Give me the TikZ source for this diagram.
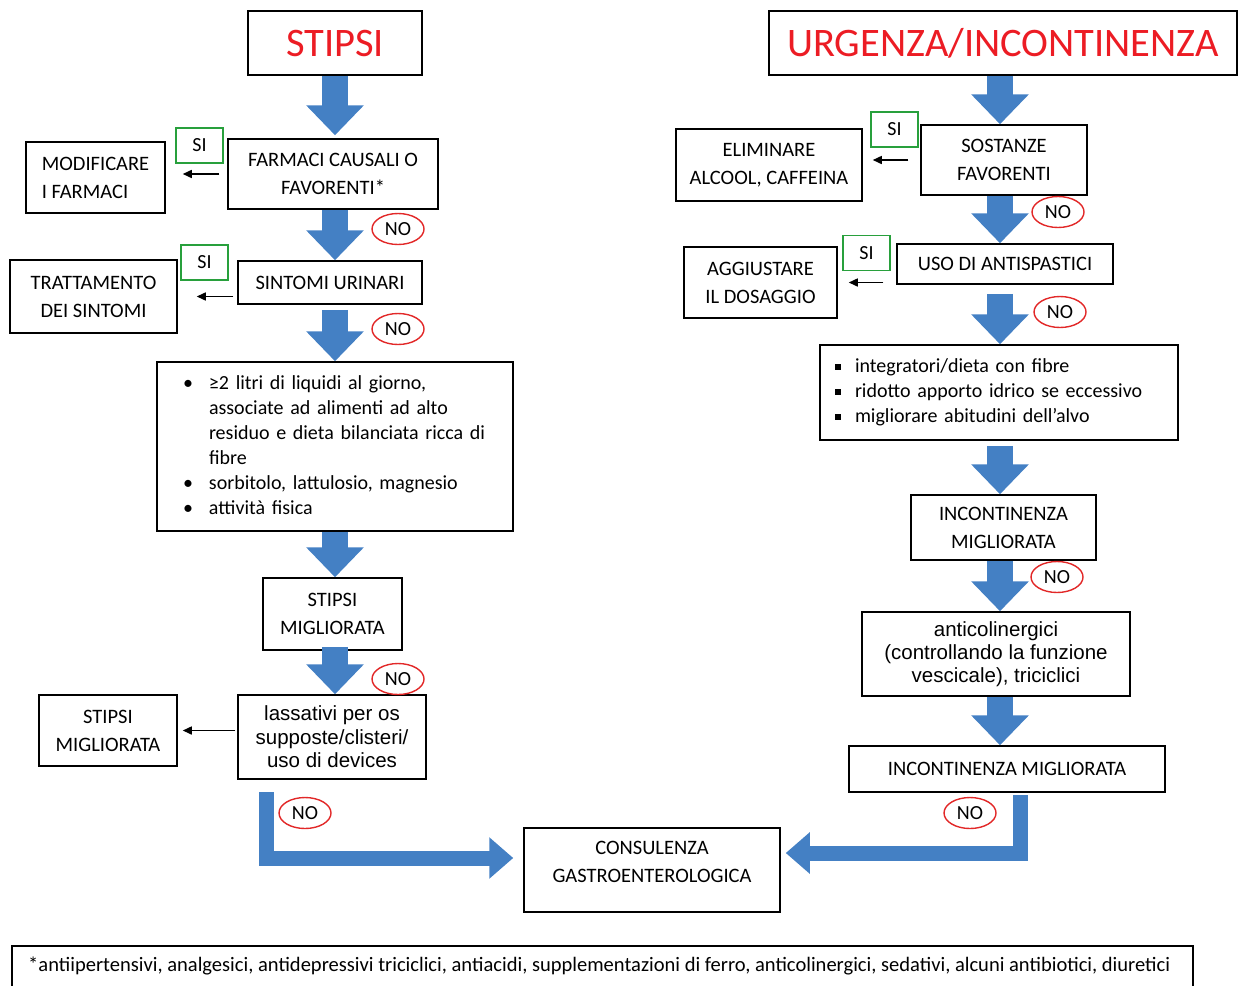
\documentclass[tikz,border=0pt]{standalone}
\usepackage{fontspec}
\setmainfont{Carlito}
\newfontfamily\arialfont{Liberation Sans}
\usepackage{graphicx}
\usetikzlibrary{shapes.geometric, arrows.meta, calc}

\definecolor{arrblue}{RGB}{68,128,196}
\definecolor{sigreen}{RGB}{40,160,60}
\definecolor{nored}{RGB}{226,40,40}
\definecolor{titlered}{RGB}{236,28,36}

\begin{document}
\begin{tikzpicture}[x=1pt, y=-1pt,
  box/.style={draw, line width=1.5pt, inner sep=0pt, align=center, font=\fontsize{20.5}{28}\selectfont},
  titlebox/.style={box, text=titlered, font=\fontsize{40.5}{44}\selectfont},
  sibox/.style={draw=sigreen, line width=1.3pt, minimum width=47pt, minimum height=35pt, inner sep=0pt, font=\fontsize{20}{22}\selectfont},
  nobox/.style={ellipse, draw=nored, line width=1.4pt, fill=white, minimum width=52pt, minimum height=31pt, inner sep=0pt, font=\fontsize{20}{22}\selectfont},
  bigarr/.style={draw=arrblue, line width=26pt, -{Triangle[length=30pt, width=56pt]}},
  bentarr/.style={draw=arrblue, line width=15pt, -{Triangle[length=24pt, width=40pt]}},
  smallarr/.style={line width=1.5pt, -{Triangle[length=9pt, width=8pt]}}]
  \useasboundingbox (0,0) rectangle (1238,985);
  \coordinate (lcol) at (335,0);
  \coordinate (rcol) at (1000,0);

  % stipsi side
  \node[titlebox, minimum width=174pt, minimum height=64pt] (stipsi) at (335,43) {STIPSI};
  \node[box, minimum width=210pt, minimum height=70pt] (farmaci) at (333,174) {FARMACI CAUSALI O\\FAVORENTI*};
  \node[sibox] (si1) at (199.5,145.5) {SI};
  \node[box, align=left, minimum width=139pt, minimum height=71pt] (modif) at (95.5,177.5) {MODIFICARE\\I FARMACI};
  \node[box, minimum width=184pt, minimum height=43pt] (sintomi) at (330,282.5) {SINTOMI URINARI};
  \node[sibox] (si2) at (204.5,262.5) {SI};
  \node[box, minimum width=167pt, minimum height=73pt] (tratt) at (93.5,296.5) {TRATTAMENTO\\DEI SINTOMI};
  \node[box, align=left, minimum width=356pt, minimum height=169pt, text width=304pt, font=\fontsize{20}{25}\selectfont] (dieta) at (335,446.5) {%
    \begin{tabular}{@{}p{26pt}@{}l@{}}
      \textbullet & ≥2 litri di liquidi al giorno,\\
      & associate ad alimenti ad alto\\
      & residuo e dieta bilanciata ricca di\\
      & fibre\\
      \textbullet & sorbitolo, lattulosio, magnesio\\
      \textbullet & attività fisica
    \end{tabular}};
  \node[box, minimum width=139pt, minimum height=72pt] (stmig) at (332.5,614) {STIPSI\\MIGLIORATA};
  \node[box, minimum width=188pt, minimum height=84pt, font=\arialfont\fontsize{20.5}{23.5}\selectfont] (lass) at (332,737) {lassativi per os\\supposte/clisteri/\\uso di devices};
  \node[box, minimum width=138pt, minimum height=71pt] (stmig2) at (108,730.5) {STIPSI\\MIGLIORATA};

  % urgenza side
  \node[titlebox, minimum width=468pt, minimum height=64pt] (urg) at (1003,43) {URGENZA/INCONTINENZA};
  \node[box, minimum width=166pt, minimum height=70pt] (sost) at (1004,160) {SOSTANZE\\FAVORENTI};
  \node[sibox] (si3) at (894.5,129.5) {SI};
  \node[box, minimum width=186pt, minimum height=72pt] (elim) at (769,165) {ELIMINARE\\ALCOOL, CAFFEINA};
  \node[box, minimum width=216pt, minimum height=40pt] (uso) at (1005,264) {USO DI ANTISPASTICI};
  \node[sibox] (si4) at (866.5,253) {SI};
  \node[box, minimum width=153pt, minimum height=71pt] (agg) at (760.5,282.5) {AGGIUSTARE\\IL DOSAGGIO};
  \node[box, align=left, minimum width=358pt, minimum height=95pt, text width=328pt, font=\fontsize{20}{25}\selectfont] (fibre) at (999,392.5) {%
    \begin{tabular}{@{}p{20pt}@{}l@{}}
      \rule[2.5pt]{6pt}{6pt} & integratori/dieta con fibre\\
      \rule[2.5pt]{6pt}{6pt} & ridotto apporto idrico se eccessivo\\
      \rule[2.5pt]{6pt}{6pt} & migliorare abitudini dell’alvo
    \end{tabular}};
  \node[box, minimum width=185pt, minimum height=65pt] (incmig) at (1003.5,527.5) {INCONTINENZA\\MIGLIORATA};
  \node[box, minimum width=268pt, minimum height=84pt, font=\arialfont\fontsize{20.5}{23}\selectfont] (antic) at (996,654) {anticolinergici\\(controllando la funzione\\vescicale), triciclici};
  \node[box, minimum width=316pt, minimum height=46pt] (incmig2) at (1007,769) {INCONTINENZA MIGLIORATA};

  \node[box, minimum width=256pt, minimum height=84pt] (cons) at (652,870) {CONSULENZA\\GASTROENTEROLOGICA\\[-12pt]\mbox{}};

  % footnote
  \node[draw, line width=1.5pt, minimum width=1181pt, minimum height=64pt, inner sep=0pt] (foot) at (602.5,978) {};
  \node[anchor=west, inner sep=0pt] (foottext) at (28,966) {\resizebox{1142pt}{!}{\fontsize{19}{22}\selectfont *antiipertensivi, analgesici, antidepressivi triciclici, antiacidi, supplementazioni di ferro, anticolinergici, sedativi, alcuni antibiotici, diuretici}};

  % big arrows
  \draw[bigarr, shorten >=3pt] (stipsi.south -| lcol) -- (farmaci.north -| lcol);
  \draw[bigarr] (farmaci.south -| lcol) -- (sintomi.north -| lcol);
  \draw[bigarr, shorten <=5pt] (sintomi.south -| lcol) -- (dieta.north -| lcol);
  \draw[bigarr] (dieta.south -| lcol) -- (stmig.north -| lcol);
  \draw[bigarr, shorten <=-4pt] (stmig.south -| lcol) -- (lass.north -| lcol);
  \draw[bigarr] (urg.south -| rcol) -- (sost.north -| rcol);
  \draw[bigarr] (sost.south -| rcol) -- (uso.north -| rcol);
  \draw[bigarr, shorten <=9pt] (uso.south -| rcol) -- (fibre.north -| rcol);
  \draw[bigarr, shorten <=5pt] (fibre.south -| rcol) -- (incmig.north -| rcol);
  \draw[bigarr] (incmig.south -| rcol) -- (antic.north -| rcol);
  \draw[bigarr] (antic.south -| rcol) -- (incmig2.north -| rcol);

  % bent arrows to consulenza
  \coordinate (lstart) at (266,792);
  \coordinate (lend) at ($(cons.west)+(-10,-12)$);
  \draw[bentarr] (lstart) |- (lend);
  \coordinate (rstart) at (1020,795);
  \coordinate (rend) at ($(cons.east)+(5,-17)$);
  \draw[bentarr] (rstart) |- (rend);

  % SI arrows
  \draw[smallarr, shorten <=8pt, shorten >=17pt] (farmaci.west) -- (farmaci.west -| modif.east);
  \draw[smallarr, shorten <=4pt, shorten >=19pt] (tratt.east -| sintomi.west) -- (tratt.east);
  \draw[smallarr, shorten <=2pt, shorten >=5pt] (stmig2.east -| lass.west) -- (stmig2.east);
  \draw[smallarr, shorten <=12pt, shorten >=10pt] (sost.west) -- (sost.west -| elim.east);
  \draw[smallarr, shorten <=13pt, shorten >=11pt] (agg.east -| uso.west) -- (agg.east);

  % NO labels
  \node[nobox] (no1) at (398,229) {NO};
  \node[nobox] (no2) at (398,329) {NO};
  \node[nobox] (no3) at (398,679) {NO};
  \node[nobox] (no4) at (305,813) {NO};
  \node[nobox] (no5) at (1058,212) {NO};
  \node[nobox] (no6) at (1060,312) {NO};
  \node[nobox] (no7) at (1057,577) {NO};
  \node[nobox] (no8) at (970,813) {NO};
\end{tikzpicture}
\end{document}
